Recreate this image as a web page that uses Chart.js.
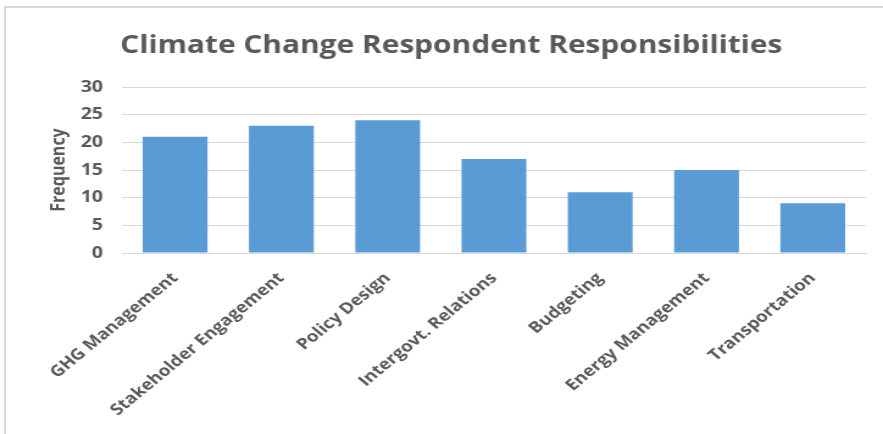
<!DOCTYPE html>
<html>
<head>
<meta charset="utf-8">
<script src="https://cdn.jsdelivr.net/npm/chart.js@4.4.1/dist/chart.umd.min.js"></script>
<style>
  html, body { margin: 0; padding: 0; background: #fff; overflow: hidden; }
  #wrap { position: relative; width: 883px; height: 434px; }
  #frame {
    position: absolute; left: 4px; top: 6px; right: 0; bottom: 0;
    border-top: 2px solid #d9d9d9; border-left: 2px solid #d9d9d9;
  }
  /* chart is laid out at 724px and widened to fill the 883px frame */
  #myBarChart {
    position: absolute; left: 0; top: 0;
    transform-origin: 0 0;
    transform: scaleX(1.2196);
  }
</style>
</head>
<body>
<div id="wrap">
  <div id="frame"></div>
  <canvas id="myBarChart" width="724" height="434"></canvas>
</div>
<script>
// responsibilities reported by respondents
var categories = ["GHG Management", "Stakeholder Engagement", "Policy Design",
  "Intergovt. Relations", "Budgeting", "Energy Management", "Transportation"];
var frequency = [21, 23, 24, 17, 11, 15, 9];
var yTicks = [0, 5, 10, 15, 20, 25, 30];

var textGray = "#595959";
var fontFamily = "'Open Sans', 'Liberation Sans', sans-serif";

var chartdata = {
  labels: categories,
  datasets: [
    {
      label: "Frequency",
      backgroundColor: "#5b9bd5",
      borderWidth: 0,
      barPercentage: 0.61,
      categoryPercentage: 1.0,
      data: frequency
    }
  ]
};

var options = {
  responsive: false,
  animation: false,
  layout: { padding: { top: 31, right: 14, bottom: 0, left: 30 } },
  plugins: {
    legend: { display: false },
    tooltip: { enabled: false },
    title: {
      display: true,
      text: "Climate Change Respondent Responsibilities",
      color: textGray,
      font: { family: fontFamily, size: 24.5, weight: "bold" },
      padding: { top: 0, bottom: 26.6 }
    }
  },
  scales: {
    x: {
      grid: { display: false },
      border: { display: true, color: "#d9d9d9", width: 1 },
      ticks: {
        color: textGray,
        font: { family: fontFamily, size: 15.5, weight: "bold" },
        minRotation: 45,
        maxRotation: 45,
        padding: 8
      },
      afterFit: function(scale) { scale.height = 181; }
    },
    y: {
      min: 0,
      max: 30,
      afterBuildTicks: function(scale) {
        scale.ticks = yTicks.map(function(v) { return { value: v }; });
      },
      grid: { color: "#d9d9d9", lineWidth: 1, drawTicks: false },
      border: { display: false },
      ticks: {
        color: textGray,
        font: { family: fontFamily, size: 16, weight: "bold" },
        padding: 15.5
      },
      title: {
        display: true,
        text: "Frequency",
        color: textGray,
        font: { family: fontFamily, size: 16, weight: "bold" },
        padding: { top: 9, bottom: 0 }
      },
      afterFit: function(scale) { scale.width = 70; }
    }
  }
};

var ctx = document.getElementById("myBarChart");
var chart = new Chart(ctx, {
  type: "bar",
  data: chartdata,
  options: options
});
</script>
</body>
</html>
